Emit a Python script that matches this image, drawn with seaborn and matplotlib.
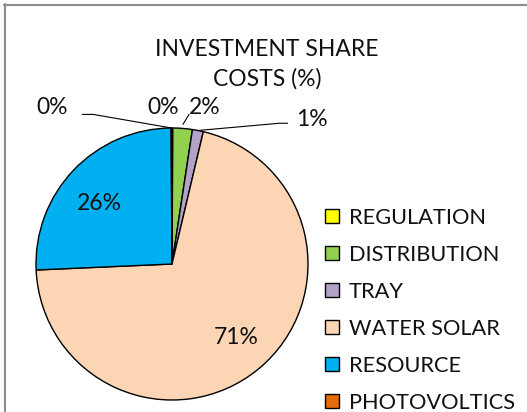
import numpy as np
import matplotlib
matplotlib.use('Agg')
import matplotlib.pyplot as plt
import seaborn as sns
from matplotlib.lines import Line2D

# data (percent shares)
categories = ['REGULATION', 'DISTRIBUTION', 'TRAY', 'WATER SOLAR', 'RESOURCE', 'PHOTOVOLTICS']
shares = [0.1, 2.3, 1.3, 70.6, 25.6, 0.1]
colors = ['#FFFF00', '#92D050', '#B3A2C7', '#FCD5B5', '#00B0F0', '#E46C0A']
title = 'INVESTMENT SHARE\nCOSTS (%)'

sns.set_theme(style='white')
plt.rcParams['font.family'] = ['Lato', 'DejaVu Sans']

W, H = 527, 412
fig = plt.figure(figsize=(W / 100, H / 100), dpi=100)

# pie centre and radius in pixels
cx, cy, r = 172, 264, 136
ax = fig.add_axes([(cx - r) / W, (H - cy - r) / H, 2 * r / W, 2 * r / H])

wedges, _ = ax.pie(shares, colors=colors, startangle=90, counterclock=False,
                   wedgeprops=dict(edgecolor='black', linewidth=1.0), radius=1)
ax.set_xlim(-1, 1)
ax.set_ylim(-1, 1)
ax.set_aspect('equal')
ax.axis('off')

# percentage labels
labels = ['%.0f%%' % v for v in shares]
px = [(163, 107), (205, 107), (312, 119), (236, 337), (99, 204), (52, 107)]
for lab, (x, y) in zip(labels, px):
    ax.text((x - cx) / r, (cy - y) / r, lab, ha='center', va='center',
            fontsize=16.5, color='#111111')

# leader lines for the tiny slices
mid = 90 - (np.cumsum(shares) - np.array(shares) / 2) / 100 * 360
def edge(i):
    a = np.deg2rad(mid[i])
    return np.cos(a), np.sin(a)

ex, ey = edge(2)
ax.plot([ex, 0.79, 0.85], [ey, 1.035, 1.035], color='black', lw=0.8, clip_on=False)
ex, ey = edge(5)
ax.plot([ex, -0.58, -0.66], [ey, 1.10, 1.10], color='black', lw=0.8, clip_on=False)
ex, ey = edge(1)
ax.plot([ex * 1.03, 0.125], [ey * 1.03, 1.10], color='black', lw=0.8, clip_on=False)

fig.text(267 / W, 1 - 64 / H, title, ha='center', va='center', fontsize=16.5,
         linespacing=1.45, color='#111111')

leg = fig.legend(wedges, categories, loc='upper left', bbox_to_anchor=(316 / W, 1 - 199 / H),
                 frameon=False, fontsize=15.7, handlelength=0.65, handleheight=0.65,
                 handletextpad=0.45, labelspacing=0.78, borderaxespad=0)
for t in leg.get_texts():
    t.set_color('#111111')

# chart frame (top and left edges visible)
fig.add_artist(Line2D([4 / W, 1.0], [1 - 4.5 / H] * 2, color='#8c8c8c', lw=1.5))
fig.add_artist(Line2D([4.5 / W] * 2, [0, 1 - 4 / H], color='#8c8c8c', lw=1.5))

fig.savefig('out.png', dpi=100)
